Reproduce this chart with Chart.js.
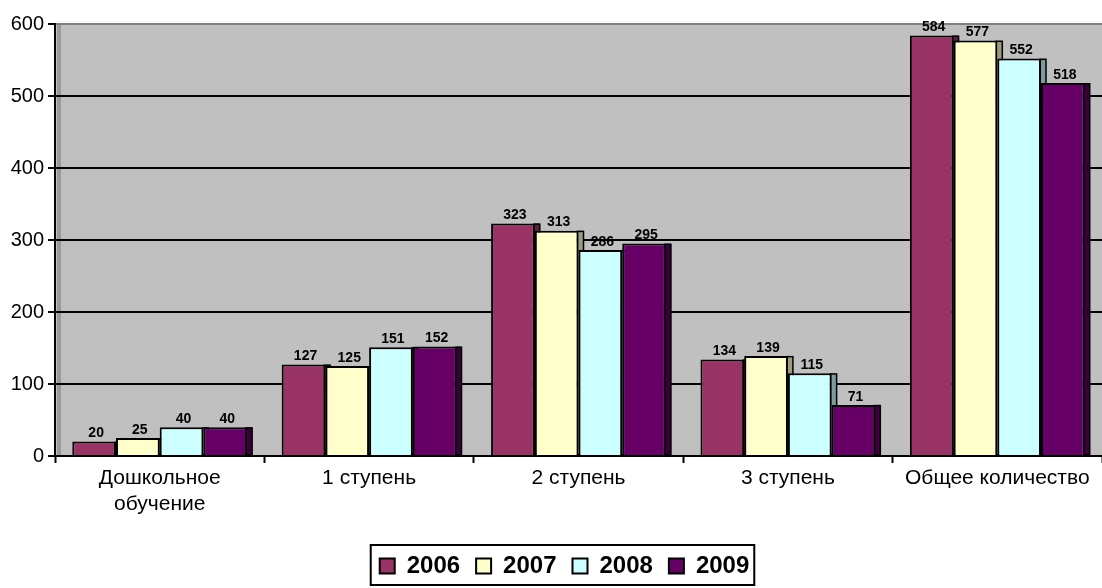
<!DOCTYPE html>
<html>
<head>
<meta charset="utf-8">
<script src="https://cdn.jsdelivr.net/npm/chart.js@4"></script>
<style>
html,body{margin:0;padding:0;background:#fff;}
canvas{display:block;}
</style>
</head>
<body>
<canvas id="c" width="1102" height="588"></canvas>
<script>
const categories = [['Дошкольное', 'обучение'], '1 ступень', '2 ступень', '3 ступень', 'Общее количество'];
const years = ['2006', '2007', '2008', '2009'];
const values2006 = [20, 127, 323, 134, 584];
const values2007 = [25, 125, 313, 139, 577];
const values2008 = [40, 151, 286, 115, 552];
const values2009 = [40, 152, 295, 71, 518];
const yMin = 0, yMax = 600, yStep = 100;

const seriesValues = [values2006, values2007, values2008, values2009];
const fillColors = ['#993366', '#FFFFCC', '#CCFFFF', '#660066'];
const sideColors = ['#5E1F40', '#9C9C7C', '#7C9C9C', '#3A003A'];
const FONT = '"Liberation Sans", Arial, sans-serif';

const bgPlugin = {
  id: 'bgPlugin',
  beforeDraw(chart) {
    const {ctx, chartArea: a} = chart;
    ctx.save();
    ctx.fillStyle = '#C0C0C0';
    ctx.fillRect(a.left, a.top, a.right - a.left, a.bottom - a.top);
    ctx.fillStyle = '#9A9A9A';
    ctx.fillRect(a.left + 2, a.top, 4, a.bottom - a.top);
    ctx.restore();
  }
};

const sidePlugin = {
  id: 'sidePlugin',
  beforeDatasetsDraw(chart) {
    const ctx = chart.ctx;
    ctx.save();
    chart.data.datasets.forEach((ds, i) => {
      const meta = chart.getDatasetMeta(i);
      meta.data.forEach(bar => {
        const p = bar.getProps(['x', 'y', 'base', 'width'], true);
        const r = p.x + p.width / 2;
        ctx.fillStyle = sideColors[i];
        ctx.fillRect(r - 1, p.y, 6, p.base - p.y);
        ctx.strokeStyle = '#000';
        ctx.lineWidth = 1.5;
        ctx.strokeRect(r - 1, p.y + 0.75, 6, p.base - p.y - 0.75);
      });
    });
    ctx.restore();
  }
};

const labelPlugin = {
  id: 'labelPlugin',
  afterDatasetsDraw(chart) {
    const ctx = chart.ctx;
    ctx.save();
    ctx.font = 'bold 14px ' + FONT;
    ctx.fillStyle = '#000';
    ctx.textAlign = 'center';
    ctx.textBaseline = 'bottom';
    chart.data.datasets.forEach((ds, i) => {
      const meta = chart.getDatasetMeta(i);
      meta.data.forEach((bar, j) => {
        const p = bar.getProps(['x', 'y'], true);
        ctx.fillText(String(ds.data[j]), p.x + 2, p.y - 1);
      });
    });
    ctx.restore();
  }
};

const legendShiftPlugin = {
  id: 'legendShiftPlugin',
  afterLayout(chart) {
    const lg = chart.legend;
    if (!lg) return;
    lg.left += 12;
    lg.right += 12;
  }
};

const legendBoxPlugin = {
  id: 'legendBoxPlugin',
  afterDraw(chart) {
    const hb = chart.legend && chart.legend.legendHitBoxes;
    if (!hb || !hb.length) return;
    const ctx = chart.ctx;
    const left = hb[0].left - 9;
    const last = hb[hb.length - 1];
    const right = last.left + last.width + 5;
    const top = hb[0].top - 9;
    const bottom = hb[0].top + hb[0].height + 7;
    ctx.save();
    ctx.strokeStyle = '#000';
    ctx.lineWidth = 2;
    ctx.strokeRect(left, top, right - left, bottom - top);
    ctx.restore();
  }
};

new Chart(document.getElementById('c'), {
  type: 'bar',
  data: {
    labels: categories,
    datasets: years.map((y, i) => ({
      label: y,
      data: seriesValues[i],
      backgroundColor: fillColors[i],
      borderColor: '#000',
      borderWidth: 2,
      categoryPercentage: 0.835,
      barPercentage: 1.0
    }))
  },
  options: {
    responsive: false,
    devicePixelRatio: 1,
    animation: false,
    layout: { padding: { left: 0, right: -3, top: 24, bottom: 0 } },
    plugins: {
      tooltip: { enabled: false },
      legend: {
        position: 'bottom',
        labels: {
          font: { family: FONT, size: 24, weight: 'bold' },
          color: '#000',
          boxWidth: 15,
          boxHeight: 15,
          padding: 16
        }
      }
    },
    scales: {
      x: {
        offset: true,
        grid: {
          offset: true,
          drawOnChartArea: false,
          drawTicks: true,
          tickLength: 7,
          tickColor: '#000',
          tickWidth: 2
        },
        border: { display: true, color: '#000', width: 2 },
        ticks: {
          font: { family: FONT, size: 21 },
          color: '#000',
          padding: 3,
          maxRotation: 0,
          autoSkip: false
        },
        afterFit(scale) { scale.height = 82; }
      },
      y: {
        min: yMin,
        max: yMax,
        grid: {
          color: ctx => (ctx.tick && ctx.tick.value === yMax) ? '#808080' : '#000',
          lineWidth: 2,
          tickLength: 7,
          tickColor: '#000',
          tickWidth: 2
        },
        border: { display: true, color: '#000', width: 2 },
        ticks: {
          stepSize: yStep,
          font: { family: FONT, size: 20 },
          color: '#000',
          padding: 4
        },
        afterFit(scale) { scale.width = 55; }
      }
    }
  },
  plugins: [bgPlugin, sidePlugin, labelPlugin, legendShiftPlugin, legendBoxPlugin]
});
</script>
</body>
</html>
